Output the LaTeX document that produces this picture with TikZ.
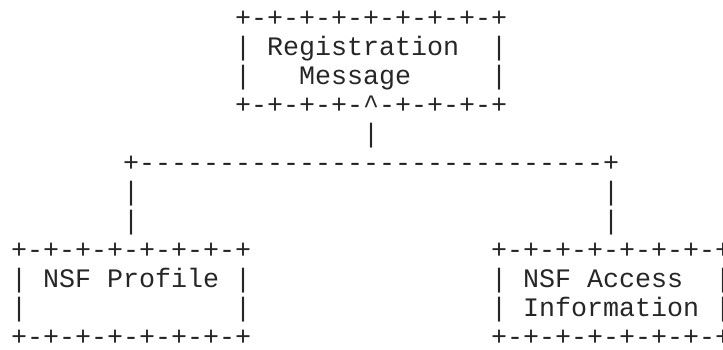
\documentclass[tikz,border=0pt]{standalone}
\usepackage{fontspec}
\setmonofont{Liberation Mono}
\usepackage{tikz}
\usetikzlibrary{positioning}

\begin{document}
\begin{tikzpicture}[x=16pt,y=-29pt,
  txt/.style={inner sep=0pt,outer sep=0pt,anchor=base west,text=black!85,
    font=\ttfamily\fontsize{26.67pt}{29pt}\selectfont}]
  \useasboundingbox (-11pt,26pt) rectangle (712pt,-323pt);
  % registration message box
  \node[txt] (regtop) at (14,0) {+-+-+-+-+-+-+-+-+};
  \node[txt] (reg) at (16,1) {Registration};
  \node[txt] (msg) at (18,2) {Message};
  \node[txt] (regbot) at (14,3) {+-+-+-+-\textasciicircum-+-+-+-+};
  \foreach \r in {1,2} {\node[txt] (regl\r) at (14,\r) {|}; \node[txt] (regr\r) at (30,\r) {|};}
  % connector
  \node[txt] (stem) at (22,4) {|};
  \node[txt] (bus) at (7,5) {+-----------------------------+};
  \foreach \r in {6,7} {\node[txt] (dropl\r) at (7,\r) {|}; \node[txt] (dropr\r) at (37,\r) {|};}
  % nsf profile box
  \node[txt] (proftop) at (0,8) {+-+-+-+-+-+-+-+};
  \node[txt] (prof) at (2,9) {NSF Profile};
  \node[txt] (profbot) at (0,11) {+-+-+-+-+-+-+-+};
  \foreach \r in {9,10} {\node[txt] (profl\r) at (0,\r) {|}; \node[txt] (profr\r) at (14,\r) {|};}
  % nsf access information box
  \node[txt] (acctop) at (30,8) {+-+-+-+-+-+-+-+};
  \node[txt] (acc) at (32,9) {NSF Access};
  \node[txt] (info) at (32,10) {Information};
  \node[txt] (accbot) at (30,11) {+-+-+-+-+-+-+-+};
  \foreach \r in {9,10} {\node[txt] (accl\r) at (30,\r) {|}; \node[txt] (accr\r) at (44,\r) {|};}
\end{tikzpicture}
\end{document}
